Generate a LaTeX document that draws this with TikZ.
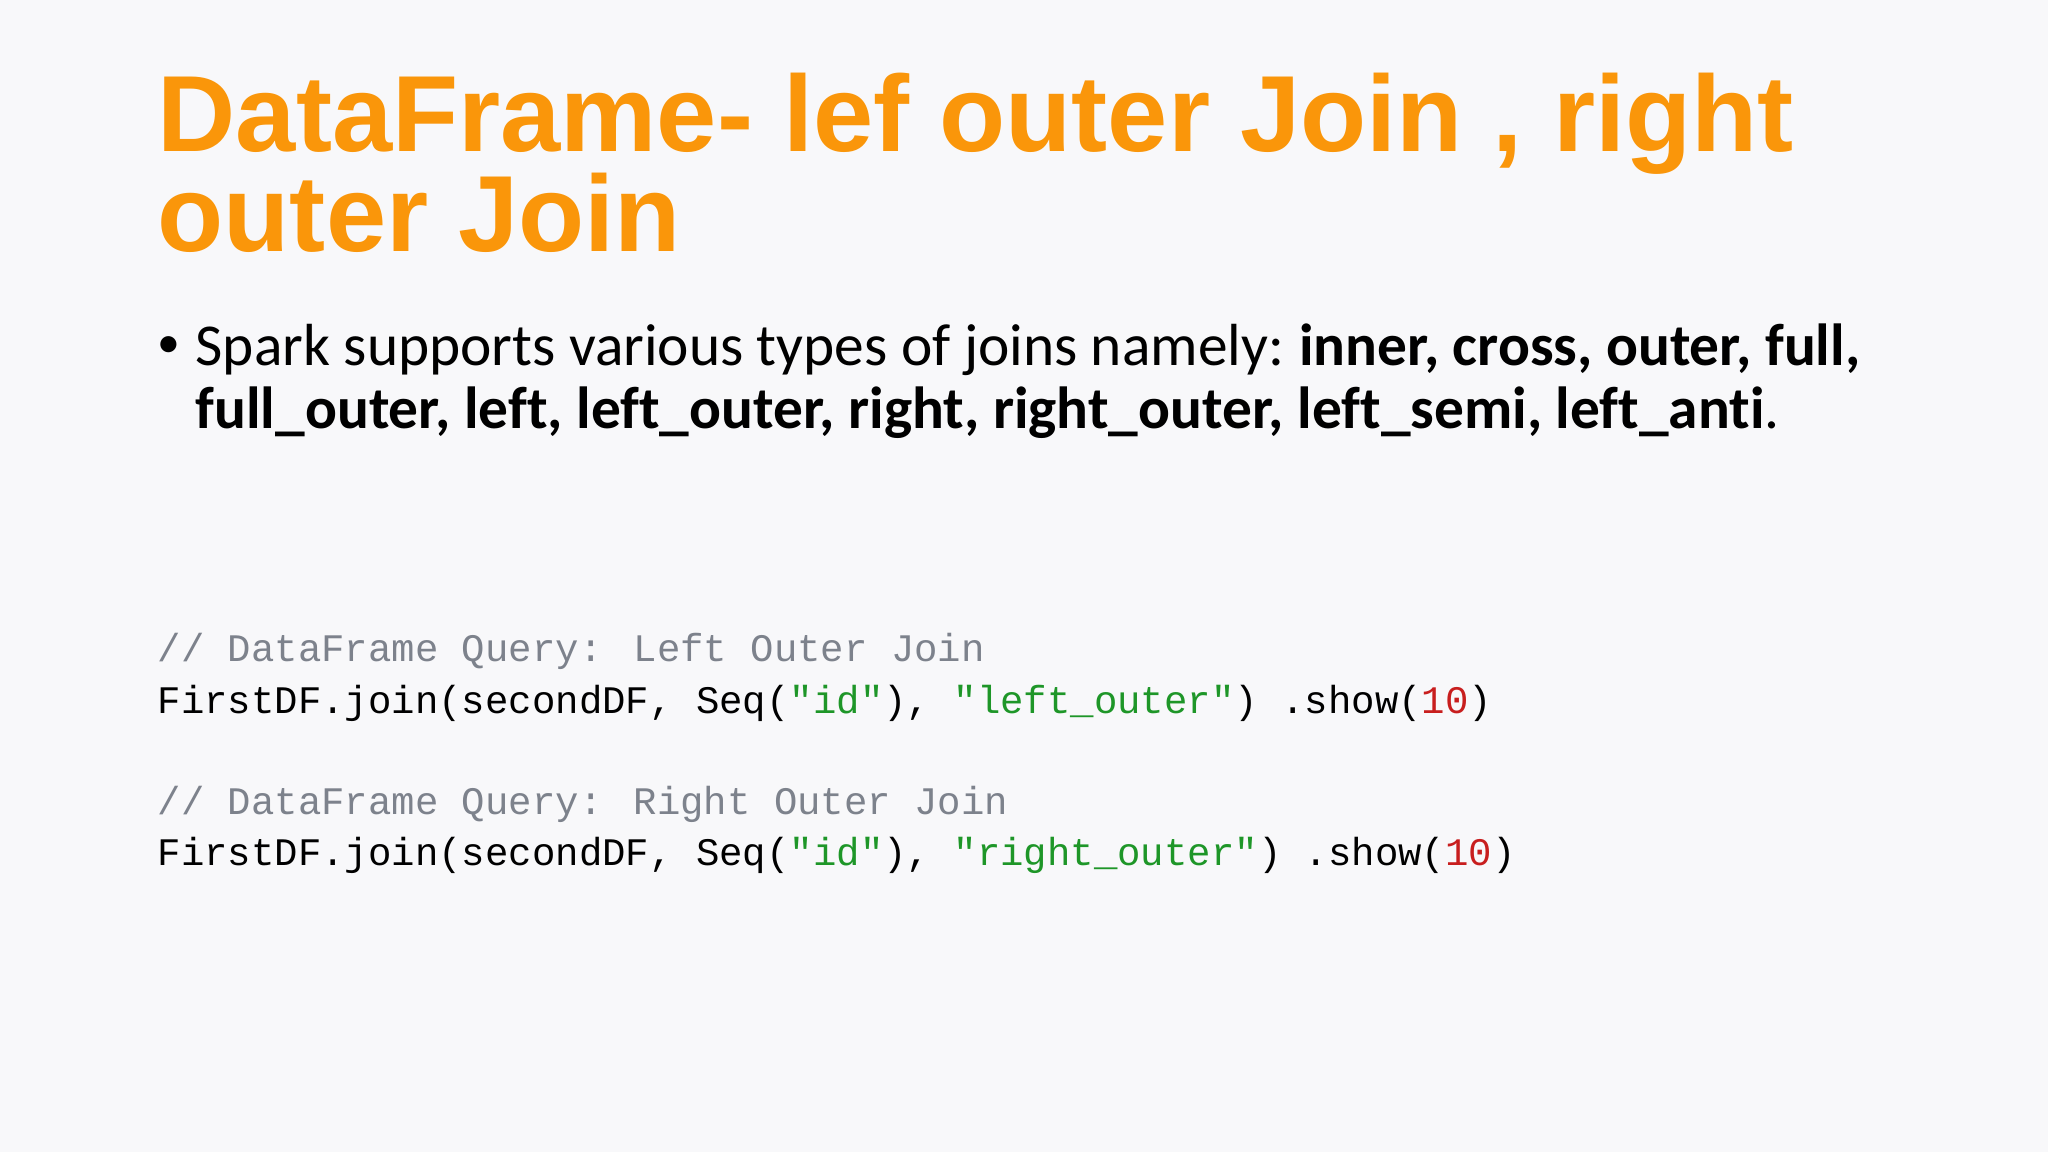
\documentclass[tikz,border=0pt]{standalone}
\usepackage{fontspec}
\setmainfont{Carlito}[Ligatures=NoCommon]
\newfontfamily\titlefont{Liberation Sans}
\newfontfamily\codefont{Liberation Mono}
\definecolor{bg}{RGB}{248,248,250}
\definecolor{ttl}{RGB}{250,150,10}
\definecolor{cmt}{RGB}{125,130,140}
\definecolor{grn}{RGB}{30,150,40}
\definecolor{rd}{RGB}{200,30,30}
\begin{document}
\begin{tikzpicture}[x=1cm,y=-1cm,
  txt/.style={anchor=base west,inner sep=0pt},
  ttlstyle/.style={txt,font=\titlefont\fontsize{30.8}{36}\selectfont\bfseries,text=ttl},
  code/.style={txt,font=\codefont\fontsize{11.1}{13}\selectfont}]
\fill[bg] (0,0) rectangle (20.48,11.52);
\useasboundingbox (0,0) rectangle (20.48,11.52);
\node[ttlstyle] (t1) at (1.57,1.52) {DataFrame- lef outer Join , right};
\node[ttlstyle] (t2) at (1.57,2.52) {outer Join};
\node[txt,font=\fontsize{13}{20}\selectfont] (b0) at (1.57,3.58) {\textbullet};
\node[txt,font=\fontsize{16.9}{20}\selectfont] (b1) at (1.95,3.66) {Spark supports various types of joins namely:\hspace{0.25em}\textbf{inner, cross, outer, full,}};
\node[txt,font=\fontsize{16.9}{20}\selectfont] (b2) at (1.95,4.29) {\textbf{full\_outer, left, left\_outer, right, right\_outer, left\_semi, left\_anti}.};
\node[code,text=cmt] (c1) at (1.57,6.62) {// DataFrame Query: Left Outer Join};
\node[code] (c2) at (1.57,7.13) {FirstDF.join(secondDF, Seq(\textcolor{grn}{"id"}), \textcolor{grn}{"left\_outer"}) .show(\textcolor{rd}{10})};
\node[code,text=cmt] (c3) at (1.57,8.14) {// DataFrame Query: Right Outer Join};
\node[code] (c4) at (1.57,8.65) {FirstDF.join(secondDF, Seq(\textcolor{grn}{"id"}), \textcolor{grn}{"right\_outer"}) .show(\textcolor{rd}{10})};
\end{tikzpicture}
\end{document}
